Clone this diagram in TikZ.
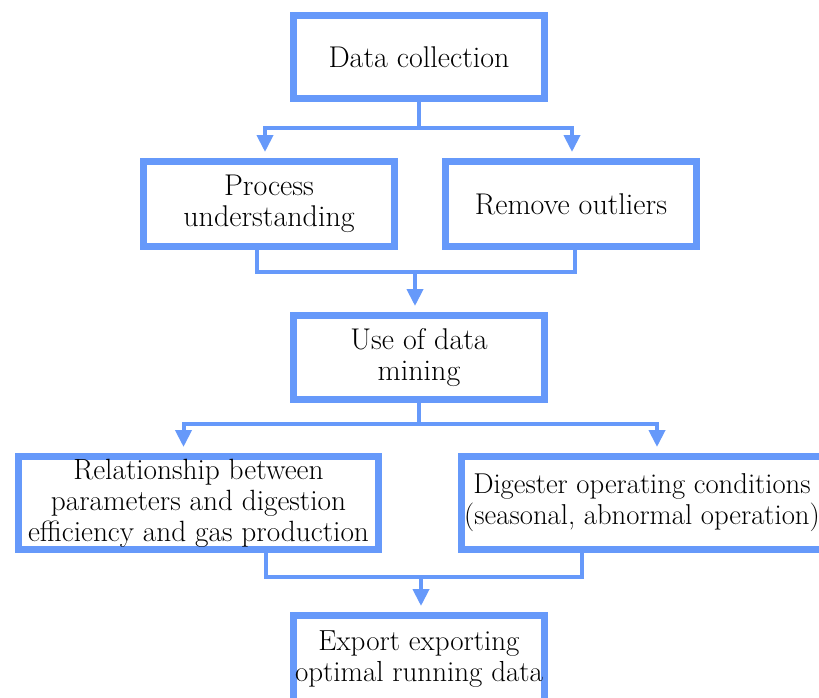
\documentclass[tikz,border=0pt]{standalone}
\usepackage{fontspec}
\usepackage{xcolor}
\usepackage{tikz}
\usetikzlibrary{arrows.meta, calc}

\definecolor{flowblue}{RGB}{102,153,250}

\begin{document}
\begin{tikzpicture}[x=1pt, y=-1pt,
    box/.style={draw=flowblue, line width=7pt, fill=white, align=center,
        inner sep=2pt, font=\fontsize{30}{31}\selectfont},
    widebox/.style={box, font=\fontsize{29.3}{31}\selectfont},
    link/.style={draw=flowblue, line width=4pt},
    arr/.style={link, -{Triangle[length=17pt, width=16pt]}, shorten >=6pt}]
    \useasboundingbox (0,0) rectangle (819,697);

    % Top step
    \node[box, minimum width=251pt, minimum height=83pt] (collect) at (419,57) {Data collection};

    % Second row
    \node[box, minimum width=251pt, minimum height=85pt] (process) at (269,204) {Process\\understanding};
    \node[box, minimum width=251pt, minimum height=85pt] (outliers) at (571,204) {Remove outliers};

    % Split to second row
    \coordinate (split1) at ($(collect.south)+(0,26)$);
    \draw[link, line cap=rect] (collect.south) -- (split1);
    \draw[arr] (split1) -| ([xshift=-4pt]process.north);
    \draw[arr] (split1) -| ([xshift=1pt]outliers.north);

    % Data mining
    \node[box, minimum width=251pt, minimum height=84pt] (mining) at (419,357.5) {Use of data\\mining};

    % Merge to data mining
    \coordinate (merge1) at ($(mining.north)+(-4,-40)$);
    \draw[link] ([xshift=-12pt]process.south) |- (merge1);
    \draw[link] ([xshift=4pt]outliers.south) |- (merge1);
    \draw[arr] (merge1) -- (merge1 |- mining.north);

    % Third row
    \node[widebox, minimum width=360pt, minimum height=93pt] (relation) at (198.5,503)
        {Relationship between\\parameters and digestion\\efficiency and gas production};
    \node[widebox, font=\fontsize{28.7}{31}\selectfont, minimum width=361pt, minimum height=93pt]
        (digester) at (642,503) {Digester operating conditions\\(seasonal, abnormal operation)};

    % Split to third row
    \coordinate (split2) at ($(mining.south)+(0,21)$);
    \draw[link, line cap=rect] (mining.south) -- (split2);
    \draw[arr] (split2) -| ([xshift=-15pt]relation.north);
    \draw[arr] (split2) -| ([xshift=15pt]digester.north);

    % Export
    \node[box, font=\fontsize{29}{31}\selectfont, minimum width=251pt, minimum height=87pt]
        (export) at (419,659) {Export exporting\\optimal running data};

    % Merge to export
    \coordinate (merge2) at ($(export.north)+(2,-35)$);
    \draw[link] ([xshift=67pt]relation.south) |- (merge2);
    \draw[link] ([xshift=-60pt]digester.south) |- (merge2);
    \draw[arr] (merge2) -- (merge2 |- export.north);
\end{tikzpicture}
\end{document}
